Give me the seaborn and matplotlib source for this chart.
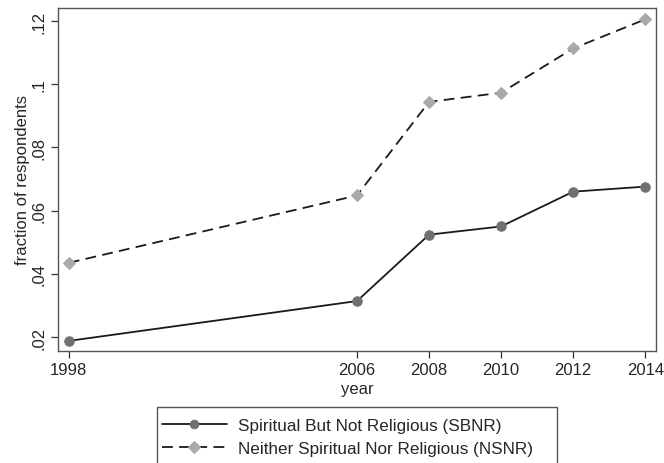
import matplotlib
matplotlib.use("Agg")
import matplotlib.pyplot as plt
from matplotlib.patches import Rectangle
import seaborn as sns
import pandas as pd

years = [1998, 2006, 2008, 2010, 2012, 2014]
sbnr = [0.0188, 0.0314, 0.0524, 0.0550, 0.0660, 0.0676]
nsnr = [0.0435, 0.0648, 0.0944, 0.0973, 0.1113, 0.1205]
y_ticks = [0.02, 0.04, 0.06, 0.08, 0.10, 0.12]
y_tick_labels = [".02", ".04", ".06", ".08", ".1", ".12"]
labels = ["Spiritual But Not Religious (SBNR)",
          "Neither Spiritual Nor Religious (NSNR)"]

sns.set_theme(style="white")
plt.rcParams["font.family"] = ["Liberation Sans", "DejaVu Sans"]
FS = 12

df = pd.DataFrame({"year": years, "SBNR": sbnr, "NSNR": nsnr})

W, H = 664, 464
fig = plt.figure(figsize=(W / 100, H / 100), dpi=100)
ax = fig.add_axes([58 / W, 1 - 352 / H, (656 - 58) / W, (352 - 9) / H])

sns.lineplot(data=df, x="year", y="SBNR", ax=ax, color="#1a1a1a", lw=1.3,
             marker="o", markersize=6.8, markerfacecolor="#707070",
             markeredgecolor="#707070", label=labels[0])
sns.lineplot(data=df, x="year", y="NSNR", ax=ax, color="#1a1a1a", lw=1.3,
             linestyle=(0, (6, 3.5)), marker="D", markersize=6.5,
             markerfacecolor="#a9a9a9", markeredgecolor="#a9a9a9",
             label=labels[1])

ax.set_xlim(1997.7, 2014.3)
ax.set_ylim(0.0156, 0.1241)
ax.set_xticks(years)
ax.set_xticklabels([str(y) for y in years], fontsize=FS)
ax.set_yticks(y_ticks)
ax.set_yticklabels(y_tick_labels, fontsize=FS, rotation=90, va="center")
ax.tick_params(axis="both", direction="out", length=5, width=0.9,
               color="#333333", bottom=True, left=True, pad=3)
for s in ax.spines.values():
    s.set_color("#555555")
    s.set_linewidth(1.0)
ax.set_xlabel("year", fontsize=FS, labelpad=3)
ax.set_ylabel("fraction of respondents", fontsize=FS, labelpad=1)

ax.get_legend().remove()
h, l = ax.get_legend_handles_labels()

# legend frame, open at the bottom edge of the figure
fig.add_artist(Rectangle((157 / W, -0.02), (557 - 157) / W, 0.02 + 1 - 408 / H,
                         transform=fig.transFigure, fill=False,
                         edgecolor="#555555", lw=1.0))
leg = fig.legend(h, l, loc="upper left", bbox_to_anchor=(162 / W, 1 - 419 / H),
                 ncol=1, fontsize=12.3, frameon=False, handlelength=3.8,
                 handletextpad=0.65, borderpad=0, borderaxespad=0,
                 labelspacing=0.45, markerscale=0.9)

fig.savefig("out.png", dpi=100)
